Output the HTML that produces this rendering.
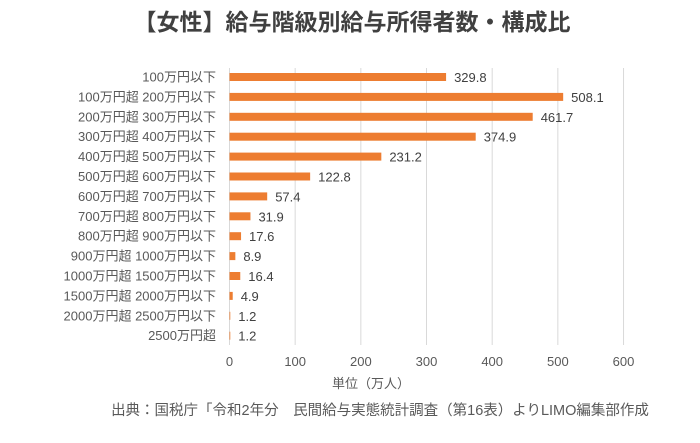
<!DOCTYPE html>
<html><head><meta charset="utf-8"><style>
body{margin:0;background:#fff;width:700px;height:438px;overflow:hidden;font-family:"Liberation Sans","Noto Sans CJK JP",sans-serif;}
svg text{font-family:"Liberation Sans","Noto Sans CJK JP",sans-serif;}
</style></head><body>
<svg id="c" width="700" height="438">
<text x="352" y="30" text-anchor="middle" font-size="23" font-weight="bold" fill="#404040">【女性】給与階級別給与所得者数・構成比</text>
<g id="grid"></g><g id="bars"></g>
<text x="371" y="388" text-anchor="middle" font-size="13" fill="#595959">単位（万人）</text>
<text x="380" y="415" text-anchor="middle" font-size="14.5" fill="#595959">出典：国税庁「令和2年分　民間給与実態統計調査（第16表）よりLIMO編集部作成</text>
</svg>
<script>
const categories=["100万円以下","100万円超 200万円以下","200万円超 300万円以下","300万円超 400万円以下","400万円超 500万円以下","500万円超 600万円以下","600万円超 700万円以下","700万円超 800万円以下","800万円超 900万円以下","900万円超 1000万円以下","1000万円超 1500万円以下","1500万円超 2000万円以下","2000万円超 2500万円以下","2500万円超"];
const values=[329.8,508.1,461.7,374.9,231.2,122.8,57.4,31.9,17.6,8.9,16.4,4.9,1.2,1.2];
const ticks=[0,100,200,300,400,500,600];
const NS="http://www.w3.org/2000/svg";
const x=v=>229.5+v*0.6567;
const y=i=>77+i*19.9;
const grid=document.getElementById('grid'),bars=document.getElementById('bars');
function mk(tag,a,p){const e=document.createElementNS(NS,tag);for(const k in a)e.setAttribute(k,a[k]);p.appendChild(e);return e;}
ticks.forEach(t=>{
 const l=mk('line',{x1:x(t),x2:x(t),y1:68,y2:345,stroke:'#d9d9d9','stroke-width':1},grid);
 
 
 const tx=mk('text',{x:x(t),y:366,'text-anchor':'middle','font-size':13,fill:'#595959'},grid);
 tx.textContent=t;
 
 
});
categories.forEach((c,i)=>{
 const lb=mk('text',{x:216,y:y(i)+4.5,'text-anchor':'end','font-size':13,fill:'#595959'},bars);
 lb.textContent=c;
 
 
 const r=mk('rect',{x:x(0),y:y(i)-4,width:Math.max(x(values[i])-x(0),0.5),height:8,fill:'#ed7d31'},bars);
 
 
 const v=mk('text',{x:x(values[i])+8,y:y(i)+5,'font-size':13,fill:'#404040'},bars);
 v.textContent=values[i].toFixed(1);
 
 
});
</script>
</body></html>
